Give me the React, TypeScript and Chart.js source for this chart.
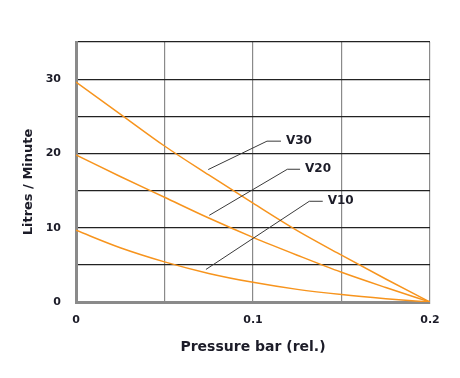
import { useEffect, useRef } from 'react';
import { Chart, registerables } from 'chart.js';

Chart.register(...registerables);

// Data
const pressure = [0, 0.025, 0.05, 0.075, 0.1, 0.125, 0.15, 0.175, 0.2];
const v30 = [29.6, 25.3, 21.0, 17.1, 13.3, 9.6, 6.3, 3.1, 0];
const v20 = [19.8, 16.9, 14.1, 11.3, 8.7, 6.3, 4.0, 1.95, 0];
const v10 = [9.65, 7.3, 5.4, 3.85, 2.65, 1.7, 1.0, 0.45, 0];
const seriesNames = ['V30', 'V20', 'V10'];
const xTickLabels = [0, 0.1, 0.2];
const yTickLabels = [0, 10, 20, 30];

// Leader lines for series labels (data coordinates)
const leaderStartX = [0.0747, 0.0753, 0.0734];
const leaderStartY = [17.83, 11.67, 4.38];
const leaderElbowX = [0.1079, 0.1194, 0.1318];
const leaderElbowY = [21.65, 17.87, 13.56];
const leaderEndX = [0.1158, 0.1266, 0.1394];

const xTitle = 'Pressure bar (rel.)';
const yTitle = 'Litres / Minute';

const TEXT = '#1c1c28';
const ORANGE = '#f7941d';
const FONT = "'DejaVu Sans', sans-serif";

const leaderPlugin = {
  id: 'leaders',
  afterDatasetsDraw(chart: any) {
    const { ctx, scales } = chart;
    const x = scales.x;
    const y = scales.y;
    ctx.save();
    ctx.strokeStyle = '#3a3a3a';
    ctx.lineWidth = 1;
    ctx.fillStyle = TEXT;
    ctx.font = `bold 12px ${FONT}`;
    ctx.textBaseline = 'middle';
    ctx.textAlign = 'left';
    seriesNames.forEach((name, i) => {
      const sx = x.getPixelForValue(leaderStartX[i]);
      const sy = y.getPixelForValue(leaderStartY[i]);
      const ex = x.getPixelForValue(leaderElbowX[i]);
      const ey = y.getPixelForValue(leaderElbowY[i]);
      const fx = x.getPixelForValue(leaderEndX[i]);
      ctx.beginPath();
      ctx.moveTo(sx, sy);
      ctx.lineTo(ex, ey);
      ctx.lineTo(fx, ey);
      ctx.stroke();
      ctx.fillText(name, fx + 5, ey);
    });
    // y-axis title
    const cy = (chart.chartArea.top + chart.chartArea.bottom) / 2 + 10;
    ctx.translate(29, cy);
    ctx.rotate(-Math.PI / 2);
    ctx.textAlign = 'center';
    ctx.font = `bold 13px ${FONT}`;
    ctx.fillText(yTitle, 0, 0);
    ctx.restore();
  },
};

function near(v: number, list: number[]) {
  return list.some((t) => Math.abs(t - v) < 1e-6);
}

export default function App() {
  const ref = useRef<HTMLCanvasElement>(null);
  useEffect(() => {
    if (!ref.current) return;
    const mk = (data: number[]) => ({
      data: pressure.map((p, i) => ({ x: p, y: data[i] })),
      borderColor: ORANGE,
      borderWidth: 1.5,
      pointRadius: 0,
      fill: false,
      cubicInterpolationMode: 'monotone' as const,
    });
    const chart = new Chart(ref.current, {
      type: 'line',
      data: {
        datasets: [
          { label: seriesNames[0], ...mk(v30) },
          { label: seriesNames[1], ...mk(v20) },
          { label: seriesNames[2], ...mk(v10) },
        ],
      },
      options: {
        animation: false,
        responsive: false,
        maintainAspectRatio: false,
        layout: { padding: { left: 0, right: 30, top: 42, bottom: 0 } },
        plugins: { legend: { display: false }, tooltip: { enabled: false } },
        scales: {
          x: {
            type: 'linear',
            min: 0,
            max: 0.2,
            afterFit: (s: any) => {
              s.height = 76;
            },
            grid: { color: '#8a8a8a', lineWidth: 1.2, drawTicks: false },
            border: { color: '#8a8a8a', width: 3 },
            ticks: {
              stepSize: 0.05,
              padding: 12,
              color: TEXT,
              font: { family: FONT, weight: 'bold', size: 11 },
              maxRotation: 0,
              autoSkip: false,
              callback: (v: any) => (near(Number(v), xTickLabels) ? String(Math.round(Number(v) * 10) / 10) : ''),
            },
            title: {
              display: true,
              text: xTitle,
              color: TEXT,
              font: { family: FONT, weight: 'bold', size: 14 },
              padding: { top: 0, bottom: 22 },
            },
          },
          y: {
            type: 'linear',
            min: 0,
            max: 35,
            afterFit: (s: any) => {
              s.width = 76;
            },
            grid: { color: '#222222', lineWidth: 1.2, drawTicks: false },
            border: { color: '#8a8a8a', width: 3 },
            ticks: {
              stepSize: 5,
              padding: 15,
              color: TEXT,
              font: { family: FONT, weight: 'bold', size: 11 },
              autoSkip: false,
              callback: (v: any) => (near(Number(v), yTickLabels) ? String(v) : ''),
            },
          },
        },
      },
      plugins: [leaderPlugin],
    });
    return () => chart.destroy();
  }, []);
  return (
    <div style={{ position: 'absolute', left: 0, top: 0, width: 460, height: 378, background: '#fff' }}>
      <canvas ref={ref} width={460} height={378} />
    </div>
  );
}
